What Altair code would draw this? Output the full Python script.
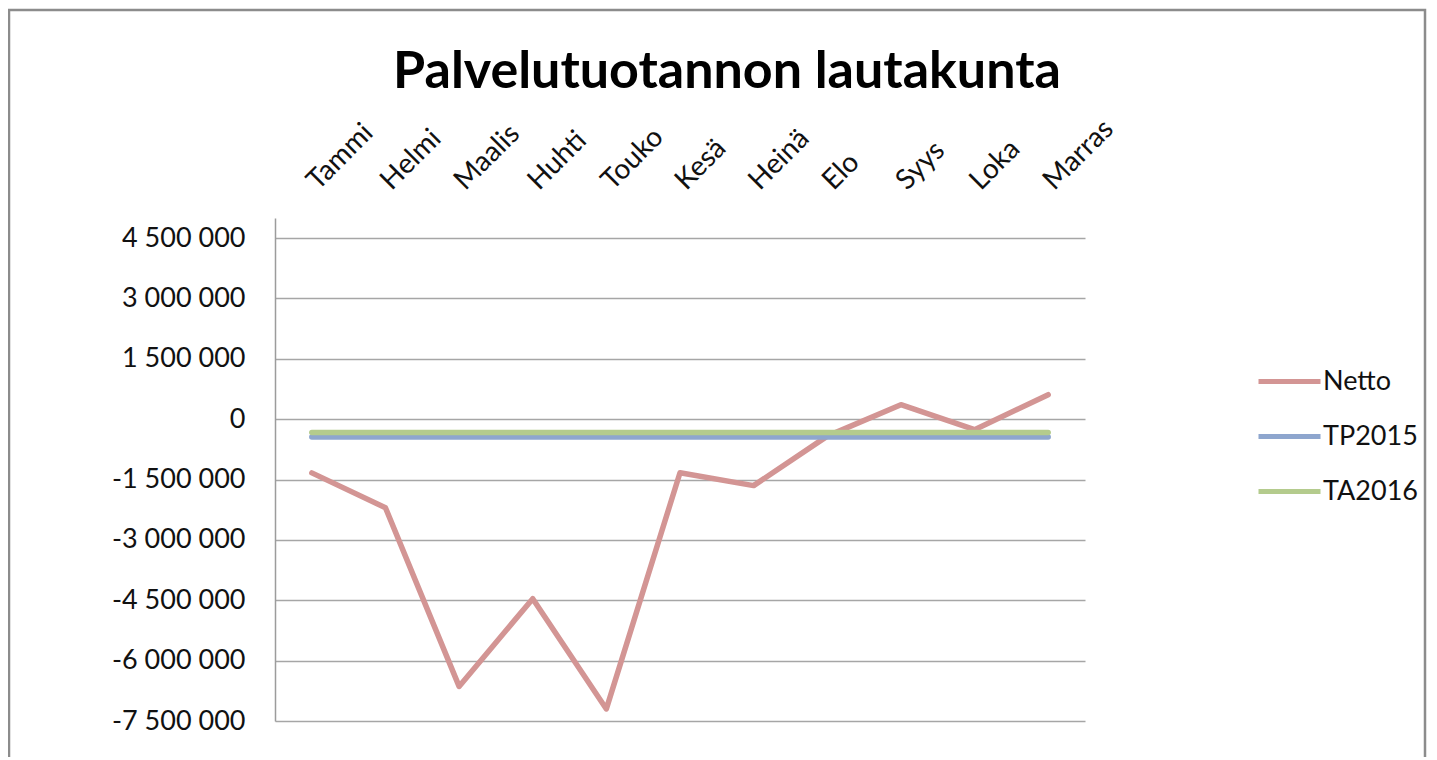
import altair as alt
import pandas as pd

months = ["Tammi", "Helmi", "Maalis", "Huhti", "Touko", "Kesä", "Heinä", "Elo", "Syys", "Loka", "Marras"]
netto = [-1334000, -2200000, -6640000, -4460000, -7200000, -1330000, -1650000, -420000, 360000, -260000, 610000]
tp2015 = [-440000, -440000, -440000, -440000, -440000, -440000, -440000, -440000, -440000, -440000, -440000]
ta2016 = [-330000, -330000, -330000, -330000, -330000, -330000, -330000, -330000, -330000, -330000, -330000]
series_names = ["Netto", "TP2015", "TA2016"]
series_colors = ["#D39594", "#8EA6CE", "#B4CB8D"]
y_ticks = [-7500000, -6000000, -4500000, -3000000, -1500000, 0, 1500000, 3000000, 4500000]
title_text = ["Palvelutuotannon lautakunta"]

rows = []
for name, vals in zip(series_names, [netto, tp2015, ta2016]):
    for m, v in zip(months, vals):
        rows.append({"Kuukausi": m, "Sarja": name, "Arvo": v})
df = pd.DataFrame(rows)

FONT = "Lato"
W, H = 810, 503

lines = alt.Chart(df).mark_line(strokeWidth=5.5, strokeCap="round", strokeJoin="round").encode(
    x=alt.X("Kuukausi:N", sort=months, title=None,
            axis=alt.Axis(orient="top", labelAngle=-45, labelAlign="left", labelBaseline="middle",
                          labelPadding=33, ticks=False, domain=False, grid=False,
                          labelFont=FONT, labelFontSize=28, labelColor="#111111")),
    y=alt.Y("Arvo:Q", title=None,
            scale=alt.Scale(domain=[-7500000, 5000000], nice=False, zero=False),
            axis=alt.Axis(values=y_ticks, format=",d", ticks=False, labelPadding=30,
                          domain=True, domainColor="#9C9C9C", domainWidth=1.5,
                          grid=True, gridColor="#A6A6A6", gridWidth=1.5,
                          labelFont=FONT, labelFontSize=27, labelColor="#111111")),
    color=alt.Color("Sarja:N", sort=series_names,
                    scale=alt.Scale(domain=series_names, range=series_colors),
                    legend=alt.Legend(title=None, orient="none", legendX=981, legendY=130,
                                      symbolType="stroke", symbolSize=3844, symbolStrokeWidth=5,
                                      labelFont=FONT, labelFontSize=27, labelColor="#111111",
                                      labelOffset=0, rowPadding=8, padding=0)),
)

frame = alt.Chart(pd.DataFrame({"k": [0]})).mark_rect(
    filled=False, stroke="#8C8C8C", strokeWidth=2.5
).encode(
    x=alt.value(-266), x2=alt.value(1150), y=alt.value(-208), y2=alt.value(600)
)

title = alt.Chart(pd.DataFrame({"t": title_text})).mark_text(
    font=FONT, fontSize=52, fontWeight="bold", color="#000000",
    align="center", baseline="alphabetic"
).encode(
    text="t:N", x=alt.value(452), y=alt.value(-130)
)

chart = alt.layer(frame, lines, title).properties(
    width=W, height=H,
    autosize=alt.AutoSizeParams(type="none"),
    padding={"left": 267, "top": 210, "right": 344, "bottom": 36},
).configure(
    locale={"number": {"decimal": ",", "thousands": "\u00a0", "grouping": [3],
                       "currency": ["", "\u00a0€"], "minus": "-"}}
).configure_view(stroke=None)

chart.save("out.html", embed_options={"renderer": "svg", "actions": False})
